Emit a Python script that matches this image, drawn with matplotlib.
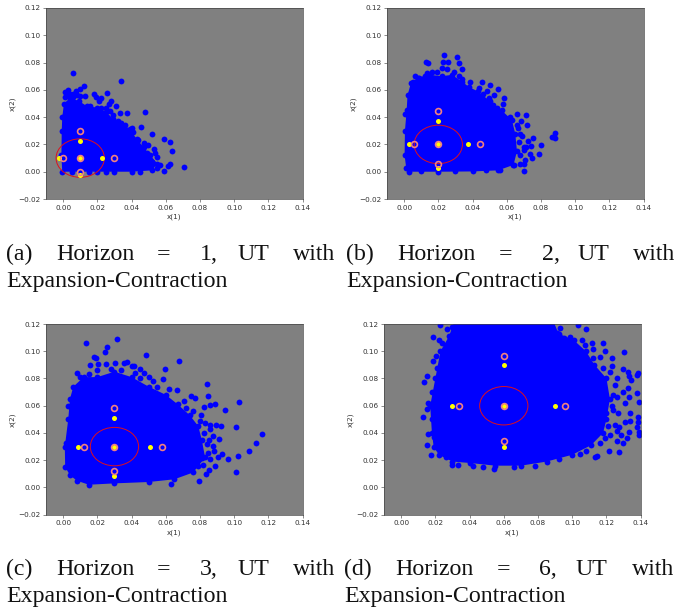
import numpy as np
import matplotlib
matplotlib.use('Agg')
import matplotlib.pyplot as plt
from matplotlib.patches import Ellipse

# axis ticks shared by all four panels
x_ticks = [0.00, 0.02, 0.04, 0.06, 0.08, 0.10, 0.12, 0.14]
y_ticks = [-0.02, 0.00, 0.02, 0.04, 0.06, 0.08, 0.10, 0.12]
radius = 0.0141

# panel a: outline of the dense cloud, then the loose points around it
a_outline = [(-0.0005, 0.000), (-0.001, 0.012), (-0.0008, 0.030), (-0.0005, 0.040), (0.0005, 0.050),
             (0.004, 0.054), (0.009, 0.052), (0.014, 0.048), (0.020, 0.047), (0.025, 0.044),
             (0.029, 0.039), (0.034, 0.036), (0.039, 0.031), (0.043, 0.024), (0.047, 0.018),
             (0.051, 0.012), (0.055, 0.006), (0.052, 0.001), (0.040, 0.000), (0.020, 0.000),
             (0.010, 0.000)]
a_points = [(0.0058, 0.0726), (0.034, 0.0665), (0.012, 0.0628), (0.0257, 0.0577), (0.018, 0.0567),
            (0.019, 0.0547), (0.0224, 0.0537), (0.0207, 0.052), (0.028, 0.0515), (0.0267, 0.0493),
            (0.0308, 0.0483), (0.025, 0.0464), (0.048, 0.0437), (0.0372, 0.043), (0.0333, 0.043),
            (0.0294, 0.0417), (0.0275, 0.0444), (0.0458, 0.0329), (0.04, 0.0317), (0.0407, 0.0292),
            (0.0517, 0.0275), (0.044, 0.023), (0.0472, 0.021), (0.0497, 0.0196), (0.059, 0.024),
            (0.0624, 0.0218), (0.0636, 0.0155), (0.053, 0.0167), (0.0536, 0.0135), (0.0548, 0.011),
            (0.0706, 0.0034), (0.0626, 0.0056), (0.0612, 0.0042), (0.059, 0.0005), (0.0567, 0.0047),
            (0.0546, 0.0027), (0.0522, 0.0071), (0.001, 0.0582), (0.0029, 0.0596), (0.0078, 0.0594),
            (0.0097, 0.0609), (0.001, 0.0547), (0.0097, 0.0555), (0.0127, 0.0555), (0.0058, 0.0567),
            (0.002, 0.056), (0.004, 0.057), (0.006, 0.055), (0.008, 0.056), (0.016, 0.048),
            (0.022, 0.047), (0.032, 0.037), (0.036, 0.034), (0.049, 0.014), (0.045, 0.018),
            (0.030, 0.000), (0.045, 0.000), (0.005, -0.0003), (0.015, -0.0003), (0.025, -0.0003)]
a_center = (0.01, 0.01)
a_rings = [(0.0, 0.01), (0.03, 0.01), (0.01, 0.03), (0.01, 0.0), (0.01, 0.01)]
a_yellow = [(-0.0025, 0.01), (0.0225, 0.01), (0.01, 0.0225), (0.01, -0.0025), (0.01, 0.01)]

# panel b
b_outline = [(0.0012, 0.003), (0.0003, 0.012), (0.0005, 0.030), (0.0015, 0.045), (0.002, 0.056),
             (0.004, 0.065), (0.008, 0.069), (0.015, 0.071), (0.022, 0.070), (0.028, 0.071),
             (0.034, 0.066), (0.038, 0.062), (0.043, 0.059), (0.050, 0.052), (0.057, 0.045),
             (0.063, 0.038), (0.065, 0.028), (0.066, 0.015), (0.064, 0.005), (0.055, 0.001),
             (0.040, 0.0002), (0.020, 0.000), (0.003, 0.000)]
b_points = [(0.0232, 0.0856), (0.031, 0.0839), (0.032, 0.08), (0.0129, 0.0802), (0.0138, 0.08),
            (0.0226, 0.0802), (0.0255, 0.0802), (0.0341, 0.0756), (0.0224, 0.0758), (0.025, 0.0753),
            (0.0289, 0.0734), (0.0341, 0.068), (0.0386, 0.0658), (0.0454, 0.0655), (0.0505, 0.0638),
            (0.0552, 0.0606), (0.0482, 0.0589), (0.0437, 0.0611), (0.0526, 0.0562), (0.0587, 0.0537),
            (0.0581, 0.0496), (0.0497, 0.0542), (0.0542, 0.0464), (0.0659, 0.042), (0.0714, 0.0415),
            (0.0684, 0.0373), (0.0717, 0.0339), (0.0665, 0.0317), (0.0678, 0.0275), (0.0688, 0.026),
            (0.0753, 0.0245), (0.0723, 0.0228), (0.0883, 0.0282), (0.0883, 0.025), (0.0866, 0.0253),
            (0.0801, 0.0194), (0.0786, 0.013), (0.0747, 0.0103), (0.0702, 0.0005), (0.07, 0.0059),
            (0.0743, 0.0187), (0.0714, 0.0182), (0.0704, 0.0157), (0.0737, 0.0133), (0.0708, 0.0088),
            (0.0678, 0.0059), (0.0634, 0.0047), (0.0558, 0.0015), (0.0006, 0.042), (0.0064, 0.0704),
            (0.009, 0.069), (0.005, 0.066), (0.0133, 0.072), (0.0162, 0.0731), (0.0191, 0.0731),
            (0.068, 0.012), (0.070, 0.018), (0.067, 0.022), (0.066, 0.034), (0.062, 0.040),
            (0.060, 0.039), (0.046, 0.057), (0.052, 0.049), (0.032, 0.070), (0.012, 0.070),
            (0.030, 0.0003), (0.010, 0.0002), (0.048, 0.001)]
b_center = (0.02, 0.02)
b_rings = [(0.0058, 0.02), (0.0445, 0.02), (0.02, 0.0444), (0.02, 0.0059), (0.02, 0.02)]
b_yellow = [(0.0029, 0.02), (0.0372, 0.02), (0.02, 0.0373), (0.02, 0.0027), (0.02, 0.02)]

# panel c
c_outline = [(0.0012, 0.015), (0.001, 0.030), (0.003, 0.050), (0.004, 0.065), (0.006, 0.074),
             (0.012, 0.081), (0.020, 0.081), (0.030, 0.085), (0.040, 0.081), (0.050, 0.074),
             (0.060, 0.068), (0.067, 0.061), (0.074, 0.053), (0.079, 0.045), (0.081, 0.035),
             (0.083, 0.022), (0.076, 0.011), (0.065, 0.006), (0.050, 0.004), (0.030, 0.003),
             (0.015, 0.002), (0.008, 0.005), (0.004, 0.009)]
c_points = [(0.0316, 0.1087), (0.0133, 0.1058), (0.0257, 0.1029), (0.0242, 0.0994), (0.0485, 0.0972),
            (0.0678, 0.0926), (0.0181, 0.096), (0.0195, 0.095), (0.016, 0.0899), (0.0205, 0.0904),
            (0.0374, 0.0923), (0.0355, 0.0916), (0.04, 0.0894), (0.0413, 0.0892), (0.0302, 0.0911),
            (0.0595, 0.0872), (0.008, 0.0838), (0.0448, 0.0867), (0.0472, 0.0838), (0.0501, 0.0813),
            (0.0585, 0.0796), (0.0526, 0.0781), (0.0838, 0.0757), (0.0663, 0.0715), (0.0708, 0.0637),
            (0.0844, 0.0669), (0.103, 0.0627), (0.0745, 0.0669), (0.077, 0.0654), (0.0823, 0.0588),
            (0.0805, 0.0534), (0.0948, 0.0566), (0.0858, 0.0607), (0.0887, 0.061), (0.101, 0.0441),
            (0.0893, 0.0458), (0.092, 0.0451), (0.0856, 0.0458), (0.116, 0.0392), (0.113, 0.0328),
            (0.1086, 0.0269), (0.102, 0.0233), (0.101, 0.0113), (0.0965, 0.0206), (0.0928, 0.0245),
            (0.091, 0.0358), (0.0877, 0.0377), (0.0823, 0.0397), (0.0795, 0.0049), (0.0632, 0.0024),
            (0.0887, 0.0157), (0.0833, 0.0098), (0.0854, 0.0127), (0.0877, 0.0304), (0.0848, 0.025),
            (0.0907, 0.0225), (0.0819, 0.0164), (0.0809, 0.0213), (0.025, 0.091), (0.028, 0.087),
            (0.034, 0.086), (0.042, 0.084), (0.045, 0.080), (0.055, 0.074), (0.062, 0.072),
            (0.072, 0.058), (0.076, 0.056), (0.080, 0.049), (0.083, 0.047), (0.085, 0.035),
            (0.088, 0.027), (0.086, 0.021), (0.084, 0.032), (0.086, 0.043), (0.0015, 0.033),
            (0.003, 0.060), (0.010, 0.081), (0.020, 0.086), (0.015, 0.083), (0.079, 0.016)]
c_center = (0.03, 0.03)
c_rings = [(0.0121, 0.03), (0.0577, 0.03), (0.03, 0.058), (0.03, 0.0122), (0.03, 0.03)]
c_yellow = [(0.0088, 0.03), (0.0509, 0.03), (0.03, 0.0512), (0.03, 0.0085), (0.03, 0.03)]

# panel d
d_outline = [(0.018, 0.040), (0.017, 0.060), (0.020, 0.080), (0.023, 0.100), (0.028, 0.111),
             (0.032, 0.125), (0.088, 0.125), (0.092, 0.113), (0.101, 0.108), (0.108, 0.100),
             (0.113, 0.090), (0.120, 0.080), (0.122, 0.065), (0.120, 0.050), (0.118, 0.040),
             (0.111, 0.031), (0.100, 0.024), (0.085, 0.019), (0.070, 0.016), (0.055, 0.016),
             (0.040, 0.018), (0.030, 0.019), (0.022, 0.024), (0.019, 0.030)]
d_points = [(0.0125, 0.0519), (0.0133, 0.0771), (0.0152, 0.0818), (0.0187, 0.1102), (0.0226, 0.119),
            (0.022, 0.108), (0.0203, 0.0967), (0.0185, 0.0928), (0.0177, 0.024), (0.0154, 0.0309),
            (0.0152, 0.0578), (0.016, 0.0617), (0.0298, 0.0167), (0.033, 0.0167), (0.0544, 0.0137),
            (0.13, 0.0997), (0.1182, 0.1058), (0.1191, 0.1004), (0.1117, 0.1058), (0.1123, 0.1014),
            (0.123, 0.0948), (0.123, 0.0891), (0.1295, 0.0867), (0.1328, 0.085), (0.1333, 0.082),
            (0.1377, 0.0825), (0.1382, 0.0838), (0.1341, 0.0789), (0.1263, 0.08), (0.1328, 0.0727),
            (0.1298, 0.0703), (0.1377, 0.0691), (0.1333, 0.0661), (0.1388, 0.063), (0.1308, 0.0617),
            (0.1259, 0.0666), (0.1337, 0.0544), (0.1386, 0.0514), (0.1386, 0.0482), (0.1337, 0.049),
            (0.1308, 0.0482), (0.125, 0.0458), (0.1275, 0.0446), (0.1259, 0.0416), (0.1377, 0.0441),
            (0.1388, 0.0409), (0.1388, 0.0385), (0.1333, 0.0409), (0.1285, 0.0385), (0.1318, 0.036),
            (0.1298, 0.0323), (0.1259, 0.034), (0.1217, 0.0267), (0.1273, 0.0257), (0.1133, 0.0225),
            (0.1146, 0.023), (0.1045, 0.0245), (0.122, 0.0385), (0.124, 0.0568), (0.1269, 0.0544),
            (0.12, 0.0544), (0.0928, 0.1169), (0.1035, 0.119), (0.108, 0.1163), (0.0909, 0.1133),
            (0.0987, 0.1108), (0.1055, 0.1083), (0.1074, 0.1046), (0.125, 0.075), (0.122, 0.085),
            (0.118, 0.088), (0.116, 0.096), (0.112, 0.095), (0.124, 0.068), (0.123, 0.060),
            (0.121, 0.045), (0.116, 0.033), (0.119, 0.036), (0.108, 0.027), (0.092, 0.021),
            (0.078, 0.016), (0.066, 0.015), (0.048, 0.015), (0.042, 0.016), (0.026, 0.022),
            (0.022, 0.028), (0.019, 0.037), (0.016, 0.039), (0.018, 0.050), (0.018, 0.070),
            (0.021, 0.088), (0.024, 0.106), (0.027, 0.116), (0.030, 0.118), (0.095, 0.110)]
d_center = (0.06, 0.06)
d_rings = [(0.0337, 0.06), (0.0959, 0.06), (0.06, 0.0963), (0.06, 0.0338), (0.06, 0.06)]
d_yellow = [(0.0298, 0.06), (0.0899, 0.06), (0.06, 0.0897), (0.06, 0.03), (0.06, 0.06)]

# captions, split in words because the original text is justified
caption_line2 = 'Expansion-Contraction'
a_words = ['(a)', 'Horizon', '=', '1,', 'UT', 'with']
b_words = ['(b)', 'Horizon', '=', '2,', 'UT', 'with']
c_words = ['(c)', 'Horizon', '=', '3,', 'UT', 'with']
d_words = ['(d)', 'Horizon', '=', '6,', 'UT', 'with']

W, H = 676, 612
fig = plt.figure(figsize=(W / 100, H / 100), dpi=100)


def panel(left, top, right, bottom, outline, points, center, rings, yellow):
    ax = fig.add_axes([left / W, 1 - bottom / H, (right - left) / W, (bottom - top) / H])
    ax.set_facecolor('#808080')
    ax.set_xlim(-0.01, 0.14)
    ax.set_ylim(-0.02, 0.12)
    ox, oy = zip(*outline)
    px, py = zip(*points)
    ax.fill(ox, oy, color='#0000ff', lw=0)
    ax.plot(ox, oy, 'o', color='#0000ff', ms=4.2, mew=0)
    ax.plot(px, py, 'o', color='#0000ff', ms=4.2, mew=0)
    ax.add_patch(Ellipse(center, 2 * radius, 2 * radius, fill=False, ec='#e0101c', lw=0.7, zorder=3))
    yx, yy = zip(*yellow)
    rx, ry = zip(*rings)
    ax.plot(yx, yy, 'o', color='#ffff00', ms=3.6, mew=0, zorder=4)
    ax.plot(rx, ry, 'o', mfc='none', mec='#f08080', ms=4.2, mew=1.2, zorder=5)
    ax.set_xticks(x_ticks)
    ax.set_yticks(y_ticks)
    ax.set_xticklabels(['%.2f' % t for t in x_ticks])
    ax.set_yticklabels([('\u2212%.2f' % -t) if t < 0 else '%.2f' % t for t in y_ticks])
    ax.tick_params(labelsize=5.2, length=2, width=0.4, pad=2, color='#333333', labelcolor='#333333')
    ax.set_xlabel('x(1)', fontsize=5.2, labelpad=2, color='#333333')
    ax.set_ylabel('x(2)', fontsize=5.2, labelpad=2, color='#333333')
    for s in ax.spines.values():
        s.set_linewidth(0.5)
        s.set_color('#444444')


def caption(words, word_x, base1, base2):
    for w, x in zip(words, word_x):
        fig.text(x / W, 1 - base1 / H, w, family='Liberation Serif', fontsize=17.2, color='#111111', va='baseline')
    fig.text(word_x[0] / W, 1 - base2 / H, caption_line2, family='Liberation Serif', fontsize=17.2,
             color='#111111', va='baseline')


panel(46, 8, 302.7, 199, a_outline, a_points, a_center, a_rings, a_yellow)
panel(387, 8, 643.5, 199, b_outline, b_points, b_center, b_rings, b_yellow)
panel(46, 324, 302.7, 514.7, c_outline, c_points, c_center, c_rings, c_yellow)
panel(384, 324, 640.7, 514.7, d_outline, d_points, d_center, d_rings, d_yellow)

caption(a_words, [6, 56, 157, 200, 237, 293], 260, 287)
caption(b_words, [346, 397, 499, 542, 577, 633], 260, 287)
caption(c_words, [6, 56, 157, 200, 237, 293], 575, 602)
caption(d_words, [344, 395, 497, 539, 575, 632], 575, 602)

fig.savefig('out.png', dpi=100)
